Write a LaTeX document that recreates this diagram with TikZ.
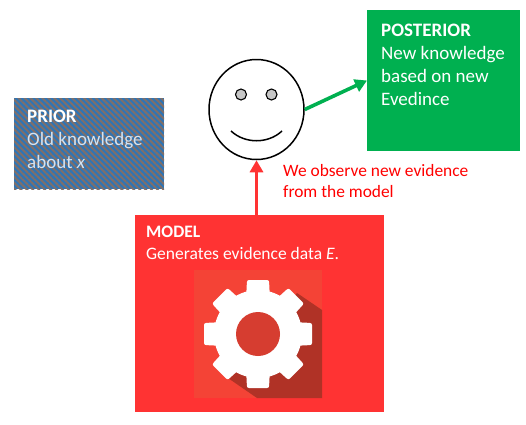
\documentclass[tikz,border=0pt]{standalone}
\usepackage{fontspec}
\setmainfont{Carlito}
\usetikzlibrary{arrows.meta,patterns.meta,shapes.geometric}
\definecolor{priorblue}{HTML}{2E75B6}
\definecolor{priorgray}{HTML}{7F6F6A}
\definecolor{postgreen}{HTML}{00B050}
\definecolor{modelred}{HTML}{FF3333}
\definecolor{iconred}{HTML}{F44336}
\definecolor{holered}{HTML}{D63D30}
\definecolor{shadowred}{HTML}{B03226}
\tikzset{
  box/.style={inner sep=0pt,outer sep=0pt},
  boxtext/.style={anchor=north west,inner sep=0pt,align=left,font=\fontsize{19}{23}\selectfont},
  eye/.style={circle,draw=black,line width=1.1pt,fill=black!22,minimum size=11pt,inner sep=0pt},
  link/.style={line width=3.6pt,-{Triangle[length=12pt,width=13pt]}}
}
\begin{document}
\begin{tikzpicture}[x=1pt,y=-1pt]
\useasboundingbox (0,0) rectangle (526,424);

   \node at (89,143.5) [box,minimum width=150pt,minimum height=91pt,preaction={fill=priorblue},pattern={Lines[angle=-45,distance=4.2pt,line width=2pt]},pattern color=priorgray] (prior) {};
   \node at (443.5,80.5) [box,minimum width=153pt,minimum height=141pt,fill=postgreen] (posterior) {};
   \node at (259.5,313.5) [box,minimum width=249pt,minimum height=197pt,fill=modelred] (model) {};
   \node at (258,334) [box,minimum width=128pt,minimum height=128pt,fill=iconred] (icon) {};
   \node at (256.5,109.5) [ellipse,draw=black,line width=1.5pt,fill=white,minimum width=95pt,minimum height=100pt,inner sep=0pt] (face) {};

   \fill[shadowred] (297,293) -- (322,310) -- (322,398) -- (257,398) -- (228,378) -- cycle;
   \foreach \ang in {0,45,...,315}
     \fill[white,rounded corners=2pt,rotate around={\ang:(258,334)}] (244,340) -- (247,280) -- (269,280) -- (272,340) -- cycle;
   \fill[white] (258,334) circle (44);
   \fill[holered] (258,334) circle (22);

   \node at (241,94.5) [eye] (lefteye) {};
   \node at (271.5,94.5) [eye] (righteye) {};
   \draw[line width=1.5pt] (231,131) .. controls (245,144) and (268,144) .. (282,131);

   \draw[link,postgreen] (face.0) -- (posterior.west);
   \draw[link,modelred] (face.south |- model.north) -- (face.south);

   \node at (27,110) [boxtext,text=white!80!priorblue] (priortext) {\textcolor{white}{\textbf{PRIOR}}\\Old knowledge\\about \textit{x}};
   \node at (381,23.5) [boxtext,text=white] (posteriortext) {\textbf{POSTERIOR}\\New knowledge\\based on new\\Evedince};
   \node at (146,226) [boxtext,text=white,font=\fontsize{17.5}{22}\selectfont] (modeltext) {\textbf{MODEL}\\Generates evidence data \textit{E}.};
   \node at (283,164) [boxtext,text=red,font=\fontsize{17.4}{21}\selectfont] (observetext) {We observe new evidence\\from the model};

\end{tikzpicture}
\end{document}
